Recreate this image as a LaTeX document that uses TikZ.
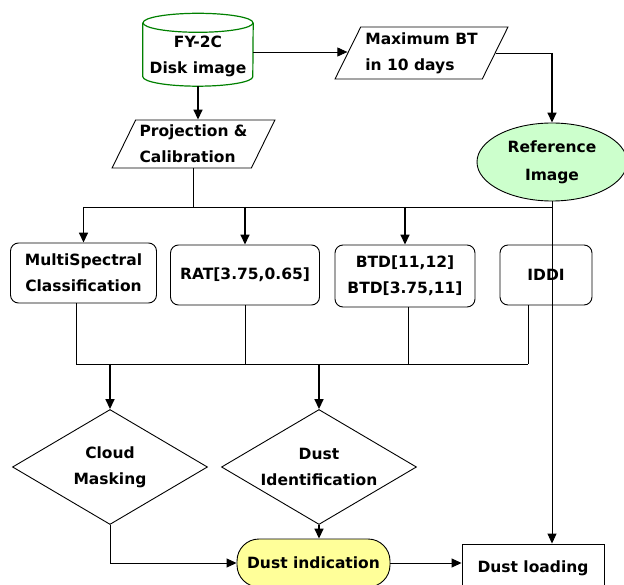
\documentclass[tikz,border=0pt]{standalone}
\usepackage{fontspec}
\setmainfont{DejaVu Sans}
\usepackage{xcolor}
\usetikzlibrary{shapes.geometric, arrows.meta}
\definecolor{diskgreen}{RGB}{0,128,0}
\definecolor{refgreen}{RGB}{204,255,204}
\definecolor{dustyellow}{RGB}{255,255,153}
\tikzset{
  lbl/.style={font=\fontsize{15.5}{26}\selectfont\bfseries, align=center, inner sep=0pt},
  diskbox/.style={lbl, rectangle, minimum width=110pt, minimum height=60pt},
  diskline/.style={draw=diskgreen, line width=1.2pt},
  iobox/.style={lbl, trapezium, trapezium left angle=60, trapezium right angle=120,
                trapezium stretches=true, draw=black, line width=0.9pt, align=left},
  refbox/.style={lbl, ellipse, draw=black, line width=0.9pt, fill=refgreen,
                 minimum width=150pt, minimum height=78pt},
  procbox/.style={lbl, rectangle, rounded corners=8pt, draw=black, line width=0.9pt,
                  minimum height=60pt},
  decision/.style={lbl, diamond, draw=black, line width=0.9pt, aspect=1.7,
                   minimum width=195pt, minimum height=115pt},
  resultbox/.style={lbl, rectangle, rounded corners=22pt, draw=black, line width=0.9pt,
                    fill=dustyellow, minimum width=153pt, minimum height=48pt},
  outbox/.style={lbl, rectangle, draw=black, line width=0.9pt,
                 minimum width=142pt, minimum height=48pt},
  link/.style={line width=0.8pt},
  arrow/.style={-{Triangle[length=10pt,width=9pt]}, line width=1.6pt},
  thinarrow/.style={-{Triangle[length=10pt,width=9pt]}, line width=0.9pt},
}

\begin{document}
\begin{tikzpicture}[x=1pt, y=-1pt]
  \useasboundingbox (0,0) rectangle (624,585);

  % Input layer
  \node[diskbox] (disk) at (198,56) {FY-2C\\Disk image};
  \draw[diskline] ([yshift=3pt]disk.north west) -- ([yshift=9.5pt]disk.south west)
    arc[start angle=180, end angle=360, x radius=55pt, y radius=9.5pt]
    -- ([yshift=3pt]disk.north east);
  \draw[diskline] ([yshift=3pt]disk.north) ellipse[x radius=55pt, y radius=9.5pt];
  \node[iobox, minimum width=173pt, minimum height=52pt] (maxbt) at (421.5,53) {Maximum BT\\in 10 days};
  \node[iobox, minimum width=163pt, minimum height=48pt] (proj) at (193.5,144) {Projection \&\\Calibration};
  \node[refbox] (ref) at (552,162) {Reference\\[2pt]Image};

  % Index layer
  \node[procbox, minimum width=146pt] (ms) at (83.5,273) {MultiSpectral\\Classification};
  \node[procbox, minimum width=149pt] (rat) at (245,275) {RAT[3.75,0.65]};
  \node[procbox, minimum width=140pt, minimum height=62pt] (btd) at (405,276) {BTD[11,12]\\BTD[3.75,11]};
  \node[procbox, minimum width=92pt] (iddi) at (546,275) {IDDI};

  % Decision layer
  \node[decision] (cloud) at (110,467) {Cloud\\Masking};
  \node[decision] (ident) at (319,467) {Dust\\Identification};

  % Output layer
  \node[resultbox] (ind) at (313.5,563) {Dust indication};
  \node[outbox] (load) at (533,568) {Dust loading};

  % Bus coordinates
  \coordinate (busL) at (83.5,207);
  \coordinate (dropA) at (76,364);
  \coordinate (dropB) at (245,364);
  \coordinate (dropC) at (408,364);
  \coordinate (dropD) at (528,364);

  % Arrows
  \draw[thinarrow] ([yshift=4pt]disk.east) -- ([yshift=4pt]disk.east -| maxbt.west);
  \draw[link] (maxbt.east) -- (maxbt.east -| ref.north);
  \draw[arrow] (maxbt.east -| ref.north) -- (ref.north);
  \draw[arrow] (disk.south) -- (disk.south |- proj.north);
  \draw[link] (proj.south) -- (proj.south |- busL);
  \draw[link] (busL) -- (ref.south |- busL);
  \draw[thinarrow] (ref.south) -- (ref.south |- load.north);
  \draw[arrow] (busL) -- (ms.north);
  \draw[arrow] (rat.north |- busL) -- (rat.north);
  \draw[arrow] (btd.north |- busL) -- (btd.north);

  \draw[link] (dropA |- ms.south) -- (dropA);
  \draw[link] (dropB |- rat.south) -- (dropB);
  \draw[link] (dropC |- btd.south) -- (dropC);
  \draw[link] (dropD |- iddi.south) -- (dropD);
  \draw[link] (dropA) -- (dropD);
  \draw[arrow] (cloud.north |- dropA) -- (cloud.north);
  \draw[arrow] (ident.north |- dropA) -- (ident.north);

  \draw[arrow] (ident.south) -- (ident.south |- ind.north);
  \draw[thinarrow] (cloud.south) |- (ind.west);
  \draw[thinarrow] (ind.east) -- (ind.east -| load.west);

\end{tikzpicture}
\end{document}
